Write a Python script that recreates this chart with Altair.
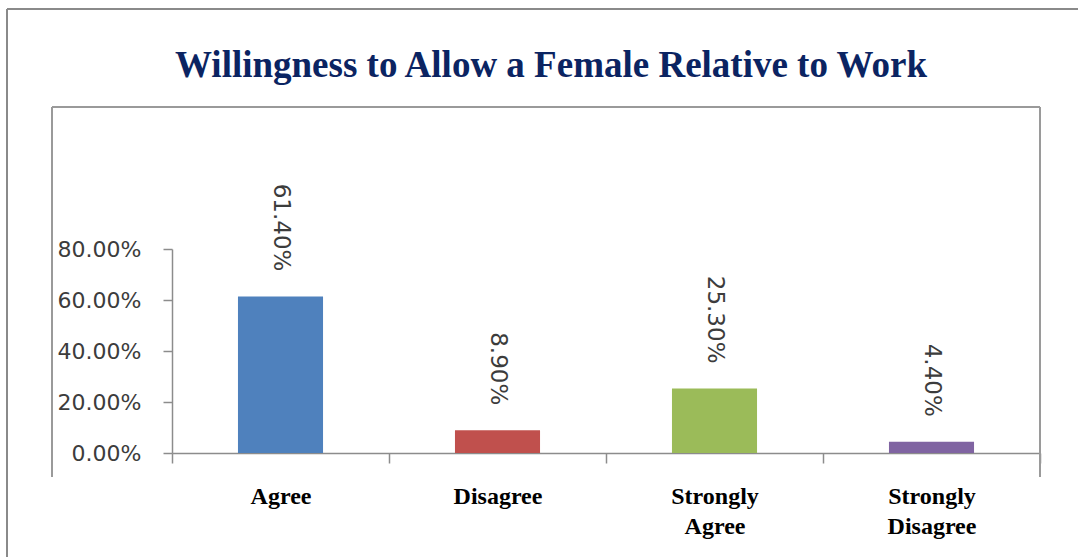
import altair as alt
import pandas as pd

# ---- data ----
categories = ["Agree", "Disagree", "Strongly Agree", "Strongly Disagree"]
shares = [0.614, 0.089, 0.253, 0.044]
share_labels = ["61.40%", "8.90%", "25.30%", "4.40%"]
bar_colors = ["#4F81BD", "#C0504D", "#9BBB59", "#8064A2"]
y_ticks = [0, 0.2, 0.4, 0.6, 0.8]
title_text = "Willingness to Allow a Female Relative to Work"

df = pd.DataFrame({
    "category": categories,
    "share": shares,
    "label": share_labels,
    "color": bar_colors,
})
one = pd.DataFrame({"k": [0]})

W, H = 868, 204
PAD_L, PAD_T = 172, 249

x_enc = alt.X(
    "category:N",
    sort=categories,
    scale=alt.Scale(paddingInner=0, paddingOuter=0),
    axis=alt.Axis(
        title=None,
        labelAngle=0,
        labelExpr="split(datum.label, ' ')",
        labelFont="Liberation Serif",
        labelFontWeight="bold",
        labelFontSize=24,
        labelColor="#000000",
        labelLineHeight=30,
        labelPadding=21,
        tickSize=10,
        tickBand="extent",
        domainColor="#8c8c8c",
        tickColor="#8c8c8c",
        domainWidth=1.5,
        tickWidth=1.5,
        grid=False,
    ),
)
y_enc = alt.Y(
    "share:Q",
    scale=alt.Scale(domain=[0, 0.8], nice=False, zero=True),
    axis=alt.Axis(
        title=None,
        values=y_ticks,
        format=".2%",
        labelFont="DejaVu Sans",
        labelFontSize=22,
        labelColor="#3c3c3c",
        labelPadding=22,
        tickSize=9,
        domainColor="#8c8c8c",
        tickColor="#8c8c8c",
        domainWidth=1.5,
        tickWidth=1.5,
        grid=False,
    ),
)

bars = alt.Chart(df).mark_bar(width=alt.RelativeBandSize(0.392)).encode(
    x=x_enc,
    y=y_enc,
    color=alt.Color("color:N", scale=None),
)

values = alt.Chart(df).mark_text(
    angle=90,
    align="right",
    baseline="middle",
    dx=-25,
    font="DejaVu Sans",
    fontSize=23,
    color="#3c3c3c",
).encode(
    x=alt.X("category:N", sort=categories),
    y=alt.Y("share:Q"),
    text="label:N",
)


def frame_line(x1, y1, x2, y2, color, width):
    return alt.Chart(one).mark_rule(color=color, strokeWidth=width).encode(
        x=alt.value(x1 - PAD_L), x2=alt.value(x2 - PAD_L),
        y=alt.value(y1 - PAD_T), y2=alt.value(y2 - PAD_T),
    )


frames = [
    # outer page border (top and left)
    frame_line(7, 9, 1078, 9, "#8a8a8a", 2),
    frame_line(7, 9, 7, 557, "#8a8a8a", 2),
    # inner chart box (top, left, right)
    frame_line(52, 107, 1040, 107, "#9a9a9a", 2),
    frame_line(52, 107, 52, 477, "#9a9a9a", 2),
    frame_line(1040, 107, 1040, 477, "#9a9a9a", 2),
]

title = alt.Chart(one).mark_text(
    text=title_text,
    font="Liberation Serif",
    fontWeight="bold",
    fontSize=37,
    color="#0B2462",
    align="center",
    baseline="alphabetic",
).encode(x=alt.value(551 - PAD_L), y=alt.value(77 - PAD_T))

chart = alt.layer(*frames, bars, values, title).properties(
    width=W,
    height=H,
    padding={"left": PAD_L, "top": PAD_T, "right": 1078 - PAD_L - W, "bottom": 557 - PAD_T - H},
    autosize=alt.AutoSizeParams(type="none"),
    background="white",
).configure_view(strokeWidth=0)

chart.save("out.html", embed_options={"renderer": "svg", "actions": False})
